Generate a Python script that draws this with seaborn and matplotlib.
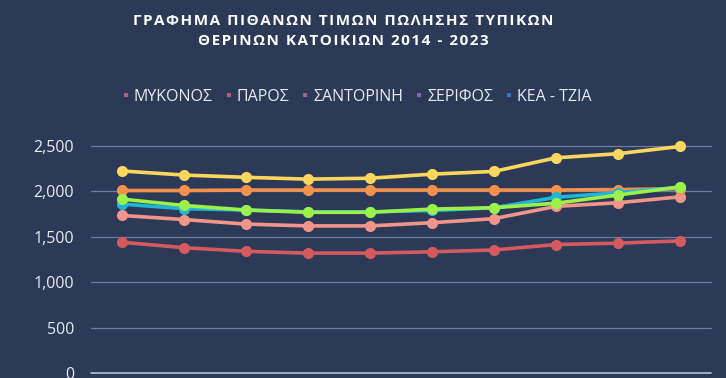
import pandas as pd
import matplotlib.pyplot as plt
import seaborn as sns
from matplotlib.lines import Line2D
from matplotlib.ticker import FuncFormatter

# ==========================================
# DATA
# ==========================================
years = [2014, 2015, 2016, 2017, 2018, 2019, 2020, 2021, 2022, 2023]

mykonos = [1440, 1380, 1340, 1320, 1320, 1335, 1355, 1415, 1430, 1455]
paros = [1735, 1690, 1640, 1620, 1620, 1655, 1700, 1835, 1875, 1940]
santorini = [2010, 2010, 2015, 2015, 2015, 2015, 2015, 2015, 2020, 2030]
serifos = [2225, 2180, 2155, 2135, 2145, 2190, 2220, 2370, 2415, 2495]
kea = [1860, 1810, 1795, 1775, 1775, 1790, 1820, 1935, 1985, 2045]
extra = [1915, 1845, 1795, 1770, 1770, 1805, 1820, 1870, 1960, 2050]

labels = ["ΜΥΚΟΝΟΣ", "ΠΑΡΟΣ", "ΣΑΝΤΟΡΙΝΗ", "ΣΕΡΙΦΟΣ", "ΚΕΑ - ΤΖΙΑ", "_6"]
series = [mykonos, paros, santorini, serifos, kea, extra]
line_colors = ["#d45a5f", "#f1958a", "#f3914d", "#fbd85d", "#1db6d8", "#9cf04a"]
legend_colors = ["#b0607e", "#a8628a", "#966596", "#8468a6", "#2f78b8"]
yticks = [0, 500, 1000, 1500, 2000, 2500]

title = "ΓΡΑΦΗΜΑ ΠΙΘΑΝΩΝ ΤΙΜΩΝ ΠΩΛΗΣΗΣ ΤΥΠΙΚΩΝ\nΘΕΡΙΝΩΝ ΚΑΤΟΙΚΙΩΝ 2014 - 2023"

# ==========================================
# LONG TABLE FOR SEABORN
# ==========================================
rows = []
for name, vals in zip(labels, series):
    for i, (yr, v) in enumerate(zip(years, vals)):
        rows.append({"idx": i, "year": yr, "price": v, "area": name})
df = pd.DataFrame(rows)

bg = "#2d3a57"
txt = "#e8ebf2"

sns.set_theme(style="white")
plt.rcParams["font.family"] = ["Open Sans", "DejaVu Sans"]

fig = plt.figure(figsize=(7.26, 3.78), dpi=100, facecolor=bg)
ax = fig.add_axes([91 / 726, 5 / 378, 620 / 726, 227 / 378])
ax.set_facecolor(bg)

for yv in yticks[1:]:
    ax.axhline(yv, color="#6f7e9e", lw=0.9, zorder=0)
ax.axhline(0, color="#b4c0da", lw=1.2, zorder=0)

sns.lineplot(
    data=df, x="idx", y="price", hue="area",
    hue_order=labels, palette=dict(zip(labels, line_colors)),
    marker="o", markersize=8, markeredgewidth=0, linewidth=2.6,
    legend=False, ax=ax,
)
for ln in ax.lines:
    ln.set_clip_on(False)

ax.set_xlim(-0.5, 9.5)
ax.set_ylim(0, 2500)
ax.set_yticks(yticks)
ax.yaxis.set_major_formatter(FuncFormatter(lambda v, p: f"{int(v):,}"))
ax.tick_params(axis="y", colors=txt, labelsize=11.5, length=0, pad=12)
ax.set_xticks([])
ax.set_xlabel("")
ax.set_ylabel("")
for s in ax.spines.values():
    s.set_visible(False)

# title with wide letter spacing
spaced = "\n".join("\u200a".join(line) for line in title.split("\n"))
fig.text(343 / 726, 1 - 31 / 378, spaced, ha="center", va="center",
         color="white", fontsize=11, weight="bold", linespacing=1.5,
         family=["Open Sans", "DejaVu Sans"])

handles = [Line2D([0], [0], marker="s", linestyle="none", markersize=3,
                  markerfacecolor=c, markeredgewidth=0) for c in legend_colors]
fig.legend(handles, labels[:5], loc="center", bbox_to_anchor=(357 / 726, 1 - 97 / 378),
           ncol=5, frameon=False, fontsize=11.5, labelcolor=txt,
           handlelength=0.4, handletextpad=0.3, columnspacing=0.8)

fig.savefig("out.png", dpi=100, facecolor=bg)
